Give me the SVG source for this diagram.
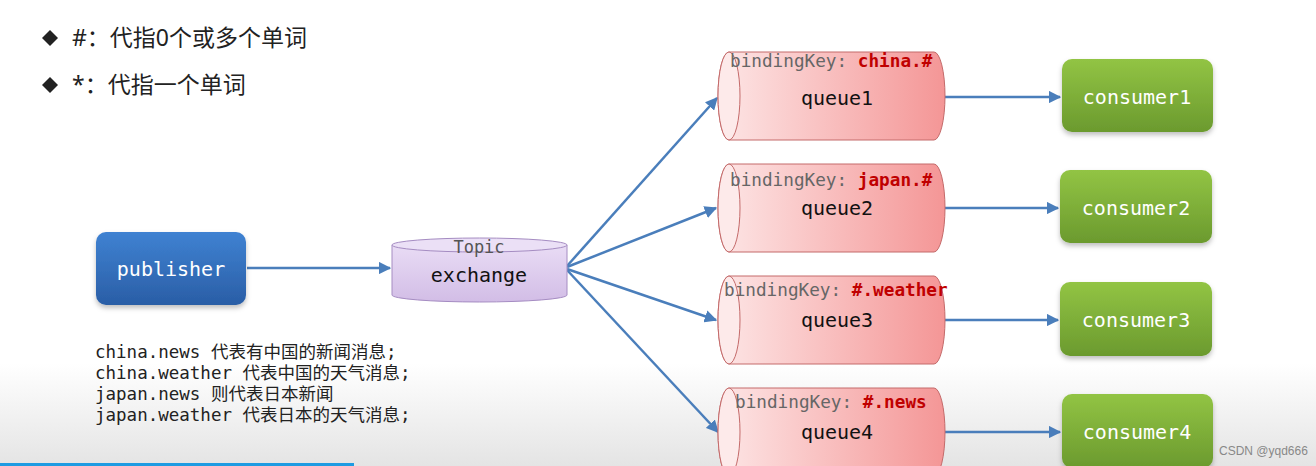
<svg xmlns="http://www.w3.org/2000/svg" width="1316" height="466" viewBox="0 0 1316 466">
<defs>
<linearGradient id="bg" x1="0" y1="0" x2="0" y2="1">
<stop offset="0" stop-color="#ffffff"/><stop offset="0.78" stop-color="#ffffff"/><stop offset="1" stop-color="#e4e4e4"/>
</linearGradient>
<linearGradient id="blue" x1="0" y1="0" x2="0" y2="1">
<stop offset="0" stop-color="#3f82d2"/><stop offset="1" stop-color="#2a5ea6"/>
</linearGradient>
<linearGradient id="green" x1="0" y1="0" x2="0" y2="1">
<stop offset="0" stop-color="#92c444"/><stop offset="1" stop-color="#6b9a2e"/>
</linearGradient>
<linearGradient id="lav" x1="0" y1="0" x2="0" y2="1">
<stop offset="0" stop-color="#e9dcf5"/><stop offset="1" stop-color="#d2bde6"/>
</linearGradient>
<linearGradient id="pink" x1="0" y1="0" x2="1" y2="0">
<stop offset="0" stop-color="#fde6e6"/><stop offset="1" stop-color="#f49696"/>
</linearGradient>
<marker id="ah" viewBox="0 0 10 10" refX="9" refY="5" markerWidth="5" markerHeight="5" orient="auto" markerUnits="strokeWidth">
<path d="M0,0 L10,5 L0,10 z" fill="#4a7ebb"/>
</marker>
<filter id="sh" x="-10%" y="-10%" width="130%" height="140%">
<feDropShadow dx="0" dy="3" stdDeviation="2.5" flood-color="#000" flood-opacity="0.25"/>
</filter>
</defs>
<style>
.mono{font-family:"DejaVu Sans Mono","Liberation Mono",monospace;}
.cn{font-family:"Noto Sans","Noto Sans CJK SC",sans-serif;}
.mixed{font-family:"DejaVu Sans Mono","Noto Sans CJK SC",monospace;}
.conn line{stroke:#4a7ebb;stroke-width:2.5;marker-end:url(#ah);}
.qbody{fill:url(#pink);stroke:#c46a6a;stroke-width:1;}
.qend{fill:#fdeaea;stroke:#c46a6a;stroke-width:1;}
.bk{font-size:17.7px;fill:#666;}
.bkv{font-size:17.7px;fill:#c00000;font-weight:bold;}
.qlabel{font-size:20px;fill:#111;text-anchor:middle;}
.cons rect{fill:url(#green);filter:url(#sh);}
.white{font-size:20px;fill:#fff;text-anchor:middle;}
</style>
<rect x="0" y="0" width="1316" height="466" fill="url(#bg)"/>
<rect x="0" y="463" width="354" height="3" fill="#1d9be2"/>

<g id="legend">
<path d="M50,30 L58,38 L50,46 L42,38 Z" fill="#222"/>
<text x="72" y="46" class="cn" font-size="23" fill="#222">#：代指0个或多个单词</text>
<path d="M50,77 L58,85 L50,93 L42,85 Z" fill="#222"/>
<text x="72" y="93" class="cn" font-size="23" fill="#222">*：代指一个单词</text>
</g>

<g class="conn" id="connectors">
<line x1="247" y1="268" x2="390" y2="268"/>
<line x1="567" y1="266" x2="717" y2="98"/>
<line x1="567" y1="267" x2="716" y2="208"/>
<line x1="567" y1="269" x2="716" y2="320"/>
<line x1="567" y1="270" x2="718" y2="432"/>
<line x1="945" y1="97" x2="1060" y2="97"/>
<line x1="945" y1="208" x2="1058" y2="208"/>
<line x1="945" y1="320" x2="1058" y2="320"/>
<line x1="945" y1="432" x2="1060" y2="432"/>
</g>

<g id="publisher">
<rect x="96" y="232" width="150" height="73" rx="10" fill="url(#blue)" filter="url(#sh)"/>
<text x="171" y="276" class="mono white">publisher</text>
</g>

<g id="exchange">
<path d="M392,245 L392,295 A87.5,7 0 0 0 567,295 L567,245 Z" fill="url(#lav)" stroke="#a58cc2" stroke-width="1"/>
<ellipse cx="479.5" cy="245" rx="87.5" ry="7" fill="#ebe0f6" stroke="#a58cc2" stroke-width="1"/>
<text x="479" y="253" class="mono" font-size="17" fill="#555" text-anchor="middle">Topic</text>
<text x="479" y="282" class="mono" font-size="20" fill="#111" text-anchor="middle">exchange</text>
</g>

<g id="queue1">
<path class="qbody" d="M729,52 A11,44 0 0 0 729,140 L934,140 A11,44 0 0 0 934,52 Z"/>
<ellipse class="qend" cx="729" cy="96" rx="11" ry="44"/>
<text x="730" y="67" class="mono"><tspan class="bk">bindingKey: </tspan><tspan class="bkv">china.#</tspan></text>
<text x="837" y="105" class="mono qlabel">queue1</text>
</g>
<g id="queue2">
<path class="qbody" d="M729,164 A11,44 0 0 0 729,252 L934,252 A11,44 0 0 0 934,164 Z"/>
<ellipse class="qend" cx="729" cy="208" rx="11" ry="44"/>
<text x="730" y="186" class="mono"><tspan class="bk">bindingKey: </tspan><tspan class="bkv">japan.#</tspan></text>
<text x="837" y="215" class="mono qlabel">queue2</text>
</g>
<g id="queue3">
<path class="qbody" d="M729,276 A11,44 0 0 0 729,364 L934,364 A11,44 0 0 0 934,276 Z"/>
<ellipse class="qend" cx="729" cy="320" rx="11" ry="44"/>
<text x="724" y="296" class="mono"><tspan class="bk">bindingKey: </tspan><tspan class="bkv">#.weather</tspan></text>
<text x="837" y="327" class="mono qlabel">queue3</text>
</g>
<g id="queue4">
<path class="qbody" d="M729,388 A11,44 0 0 0 729,476 L934,476 A11,44 0 0 0 934,388 Z"/>
<ellipse class="qend" cx="729" cy="432" rx="11" ry="44"/>
<text x="735" y="408" class="mono"><tspan class="bk">bindingKey: </tspan><tspan class="bkv">#.news</tspan></text>
<text x="837" y="439" class="mono qlabel">queue4</text>
</g>

<g id="consumer1" class="cons">
<rect x="1062" y="59" width="151" height="73" rx="10"/>
<text x="1137" y="104" class="mono white">consumer1</text>
</g>
<g id="consumer2" class="cons">
<rect x="1060" y="170" width="152" height="73" rx="10"/>
<text x="1136" y="215" class="mono white">consumer2</text>
</g>
<g id="consumer3" class="cons">
<rect x="1060" y="282" width="152" height="74" rx="10"/>
<text x="1136" y="327" class="mono white">consumer3</text>
</g>
<g id="consumer4" class="cons">
<rect x="1062" y="394" width="151" height="74" rx="10"/>
<text x="1137" y="439" class="mono white">consumer4</text>
</g>

<g id="notes" class="mixed" font-size="17.5" fill="#222">
<text x="95" y="358">china.news 代表有中国的新闻消息;</text>
<text x="95" y="379">china.weather 代表中国的天气消息;</text>
<text x="95" y="400">japan.news 则代表日本新闻</text>
<text x="95" y="421">japan.weather 代表日本的天气消息;</text>
</g>
<text x="1219" y="455" font-family="Liberation Sans, sans-serif" font-size="12" fill="#888">CSDN @yqd666</text>
</svg>
